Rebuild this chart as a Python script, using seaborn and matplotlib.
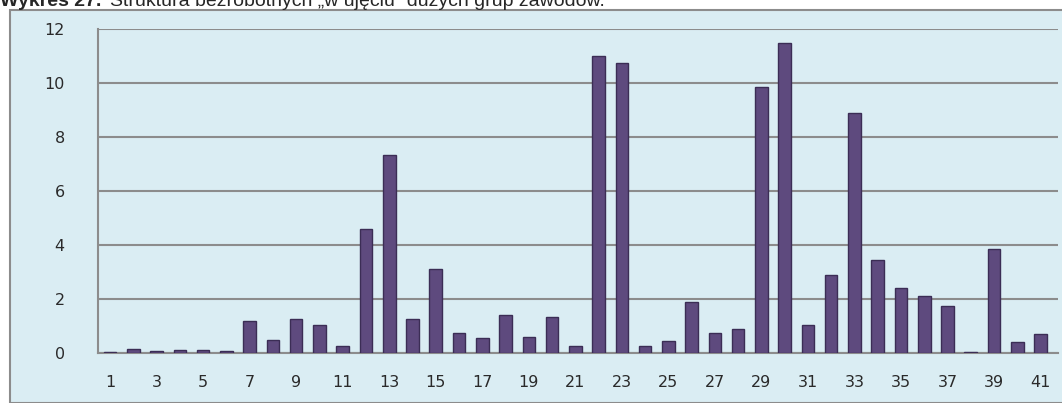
import matplotlib.pyplot as plt
import seaborn as sns
import pandas as pd
from matplotlib.patches import Rectangle

# Occupation groups 1..41 and the share of unemployed (%)
groups = list(range(1, 42))
values = [0.05, 0.15, 0.08, 0.10, 0.10, 0.08, 1.20, 0.50, 1.25, 1.05,
          0.25, 4.60, 7.35, 1.25, 3.10, 0.75, 0.55, 1.40, 0.60, 1.35,
          0.25, 11.00, 10.75, 0.25, 0.45, 1.90, 0.75, 0.90, 9.85, 11.50,
          1.05, 2.90, 8.90, 3.45, 2.40, 2.10, 1.75, 0.02, 3.85, 0.40, 0.70]
y_ticks = [0, 2, 4, 6, 8, 10, 12]

df = pd.DataFrame({"Grupa": [str(g) for g in groups], "Udzial": values})

sns.set_theme(style="white")
plt.rcParams['font.family'] = ['DejaVu Sans']

fig = plt.figure(figsize=(10.62, 4.03), dpi=100)
fig.patch.set_facecolor("white")

# outer chart frame with light blue fill (drawn behind the axes)
frame = Rectangle((10 / 1062, 0), 1.2, 1 - 10 / 403, transform=fig.transFigure,
                  facecolor="#DAEDF3", edgecolor="#8C8C8C", linewidth=1.5, zorder=-5)
fig.patches.append(frame)

ax = fig.add_axes([98 / 1062, 1 - 353 / 403, (1058 - 98) / 1062, (353 - 29) / 403])
ax.set_facecolor("none")

# title, clipped at the top like in the source
t1 = fig.text(0.0, 1 - 1 / 403, "Wykres 27.", fontsize=14, fontweight="bold",
              family=["Liberation Sans"], va="center", ha="left")
ax.annotate("Struktura bezrobotnych \u201ew ujęciu\u201d dużych grup zawodów.",
            xy=(1, 0), xycoords=t1, xytext=(6, 0), textcoords="offset points",
            fontsize=14, family=["Liberation Sans"], va="bottom", ha="left",
            annotation_clip=False)

sns.barplot(data=df, x="Grupa", y="Udzial", color="#5E4A7E", width=0.54,
            edgecolor="#3B2D55", linewidth=1.0, saturation=1, ax=ax, zorder=3)

ax.set_ylim(0, 12)
ax.set_xlim(-0.52, 40.75)
ax.set_yticks(y_ticks)
ax.set_yticklabels([str(t) for t in y_ticks], fontsize=11.5, color="#2A2A2A")
ax.yaxis.grid(True, color="#8C8C8C", linewidth=1.5)
ax.set_axisbelow(True)

# x labels only on odd groups, ticks between categories
ax.set_xticks(range(0, 41, 2))
ax.set_xticklabels([str(g) for g in groups[::2]], fontsize=11.5, color="#2A2A2A")
ax.set_xticks([i + 0.5 for i in range(-1, 41)], minor=True)
ax.tick_params(axis="x", which="major", length=0, pad=16)
ax.tick_params(axis="x", which="minor", length=5, width=1.5, color="#8C8C8C", direction="out")
ax.tick_params(axis="y", length=8, width=1.5, color="#8C8C8C", direction="out", pad=16)

for side in ["top", "right"]:
    ax.spines[side].set_visible(False)
for side in ["left", "bottom"]:
    ax.spines[side].set_color("#8C8C8C")
    ax.spines[side].set_linewidth(1.5)

ax.set_xlabel("")
ax.set_ylabel("")

fig.savefig("out.png", dpi=100)
